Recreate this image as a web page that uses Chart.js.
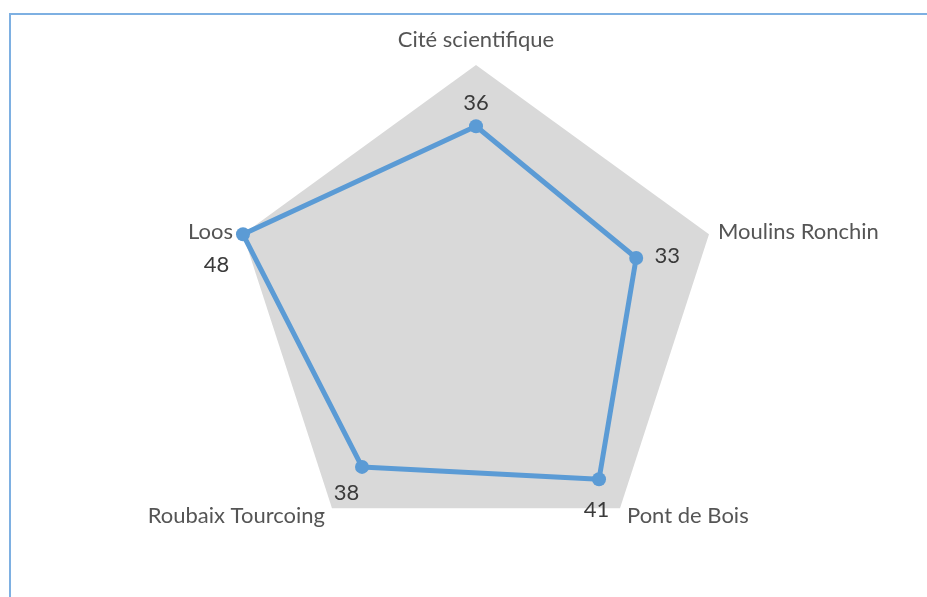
<!DOCTYPE html>
<html>
<head>
<meta charset="utf-8">
<script src="https://cdn.jsdelivr.net/npm/chart.js@4/dist/chart.umd.min.js"></script>
<style>
  html, body { margin: 0; padding: 0; background: #ffffff; }
  #wrap { position: relative; width: 927px; height: 597px; overflow: hidden; }
  #frame { position: absolute; left: 9px; top: 13px; right: -5px; bottom: -5px;
           border-top: 2px solid #7eb0e2; border-left: 2px solid #7eb0e2; }
  canvas { position: absolute; left: 0; top: 0; }
</style>
</head>
<body>
<div id="wrap">
  <div id="frame"></div>
  <canvas id="c" width="927" height="597"></canvas>
</div>
<script>
// ---- data ----
const categories = ['Cité scientifique', 'Moulins Ronchin', 'Pont de Bois', 'Roubaix Tourcoing', 'Loos'];
const values = [36, 33, 41, 38, 48];
const scaleMin = 0;
const scaleMax = 48;

// ---- style ----
const FONT_FAMILY = 'Lato, "Open Sans", sans-serif';
const FONT_SIZE = 22;
const CAT_COLOR = '#555555';
const VAL_COLOR = '#3a3a3a';
const LINE_COLOR = '#5b9bd5';
const AREA_COLOR = '#d9d9d9';
// category label placement relative to the outer vertex: [dx, dyBaseline, align]
const catPlace = [[0, -18, 'center'], [9, 5, 'left'], [7, 15, 'left'], [-7, 15, 'right'], [-10, 5, 'right']];
// value label placement relative to the point: [dx, dyBaseline]
const valPlace = [[0, -16.5], [31, 5], [-2.5, 38], [-15.5, 33], [-26.5, 38]];

const labelPlugin = {
  id: 'labels',
  afterDatasetsDraw(chart) {
    const ctx = chart.ctx;
    const scale = chart.scales.r;
    ctx.save();
    ctx.font = FONT_SIZE + 'px ' + FONT_FAMILY;
    ctx.textBaseline = 'alphabetic';
    // category labels
    ctx.fillStyle = CAT_COLOR;
    chart.data.labels.forEach((lab, i) => {
      const p = scale.getPointPosition(i, scale.drawingArea);
      const pl = catPlace[i];
      ctx.textAlign = pl[2];
      ctx.fillText(lab, p.x + pl[0], p.y + pl[1]);
    });
    // value labels
    ctx.fillStyle = VAL_COLOR;
    ctx.textAlign = 'center';
    const meta = chart.getDatasetMeta(0);
    meta.data.forEach((pt, i) => {
      const pl = valPlace[i];
      ctx.fillText(String(chart.data.datasets[0].data[i]), pt.x + pl[0], pt.y + pl[1]);
    });
    ctx.restore();
  }
};

new Chart(document.getElementById('c'), {
  type: 'radar',
  data: {
    labels: categories,
    datasets: [{
      data: values,
      borderColor: LINE_COLOR,
      backgroundColor: 'rgba(0,0,0,0)',
      borderWidth: 5,
      borderJoinStyle: 'round',
      fill: false,
      pointRadius: 7,
      pointBackgroundColor: LINE_COLOR,
      pointBorderColor: LINE_COLOR,
      pointBorderWidth: 0
    }]
  },
  options: {
    responsive: false,
    animation: false,
    devicePixelRatio: 1,
    layout: { padding: { left: 231, right: 206, top: 65, bottom: 42 } },
    plugins: { legend: { display: false }, tooltip: { enabled: false } },
    scales: {
      r: {
        min: scaleMin,
        max: scaleMax,
        backgroundColor: AREA_COLOR,
        ticks: { display: false },
        grid: { display: false },
        angleLines: { display: false },
        pointLabels: { display: false }
      }
    }
  },
  plugins: [labelPlugin]
});
</script>
</body>
</html>
